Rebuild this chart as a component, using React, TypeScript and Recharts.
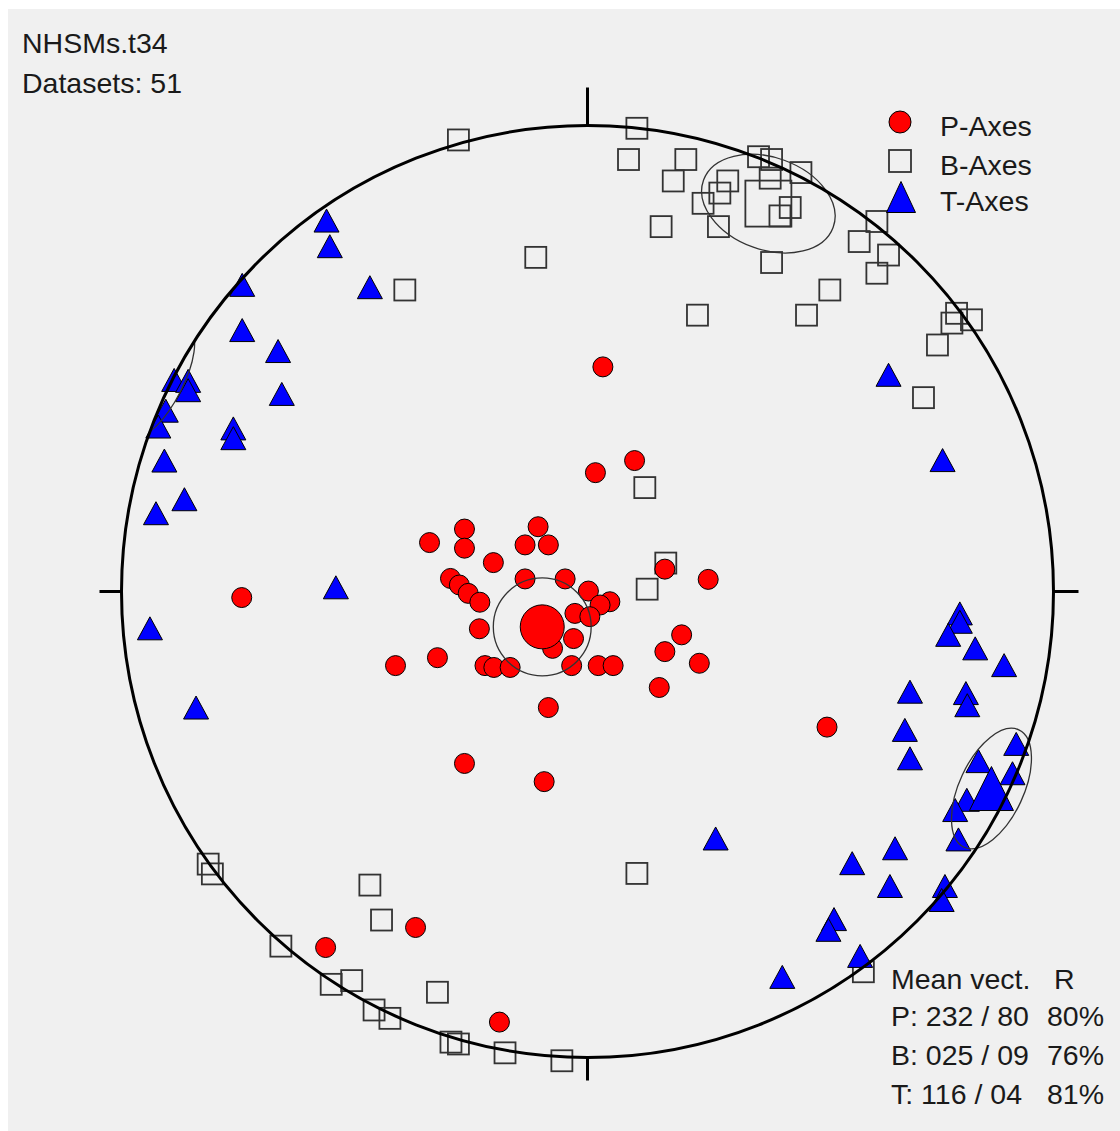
import { Scatter, ScatterChart, XAxis, YAxis } from "recharts";

// Stereonet coordinates: net radius = 100, x towards east, y towards north.
const P_AXES: [number, number][] = [
  [10.1, 28.1], [1.7, 25.5], [-26.4, 13.4], [-33.9, 10.5], [-26.4, 9.3],
  [-10.6, 13.9], [-13.4, 10.0], [-8.4, 10.0], [-20.2, 6.2], [-29.4, 2.8],
  [-27.5, 1.4], [-25.6, -0.4], [-23.1, -2.3], [-13.4, 2.7], [-4.8, 2.7],
  [0.2, 0.1], [4.8, -2.2], [2.7, -2.9], [-2.7, -4.7], [0.5, -5.4],
  [-3.0, -10.1], [-7.5, -12.2], [-23.2, -8.0], [-41.2, -15.9], [-32.2, -14.2],
  [-22.0, -15.9], [-20.1, -16.3], [-16.6, -16.3], [-3.4, -15.9], [2.3, -15.9],
  [5.5, -15.9], [16.6, 4.8], [25.9, 2.6], [20.2, -9.3], [16.6, -12.9],
  [24.0, -15.4], [15.4, -20.6], [-8.4, -24.9], [-26.4, -36.9], [-9.3, -40.8],
  [3.3, 48.2], [-74.2, -1.3], [51.4, -29.1], [-56.2, -76.4], [-36.9, -72.1],
  [-18.9, -92.4],
];

const B_AXES: [number, number][] = [
  [10.6, 99.4], [8.8, 92.7], [21.1, 92.7], [18.4, 88.1], [36.7, 93.3],
  [39.5, 92.7], [39.2, 88.7], [45.8, 89.9], [30.1, 88.1], [28.4, 85.5],
  [24.8, 83.3], [28.1, 78.3], [15.8, 78.3], [43.5, 82.4], [41.3, 80.6],
  [39.5, 70.6], [58.3, 75.1], [62.1, 79.4], [64.6, 72.2], [62.1, 68.3],
  [52.0, 64.7], [47.0, 59.3], [23.6, 59.3], [79.2, 59.7], [82.4, 58.3],
  [78.2, 57.6], [75.1, 52.9], [72.1, 41.6], [12.3, 22.3], [16.8, 6.1],
  [12.8, 0.5], [-27.7, 96.9], [-11.1, 71.7], [-39.2, 64.7], [-81.4, -58.5],
  [-80.5, -60.6], [-46.7, -63.0], [-44.2, -70.5], [-65.8, -76.1], [-55.0, -84.3],
  [-50.6, -83.5], [-45.8, -89.8], [-42.4, -91.6], [-32.2, -86.0], [-29.3, -96.7],
  [-27.7, -97.1], [-17.7, -99.0], [-5.5, -100.7], [10.6, -60.5], [59.2, -81.6],
];

const T_AXES: [number, number][] = [
  [-56.0, 79.6], [-55.3, 74.1], [-74.1, 65.8], [-46.7, 65.3], [-74.1, 56.1],
  [-66.4, 51.6], [-65.6, 42.4], [-88.7, 45.4], [-85.7, 45.2], [-85.7, 43.2],
  [-90.5, 38.8], [-92.1, 35.4], [-76.0, 35.0], [-76.0, 32.9], [-90.8, 28.1],
  [-86.5, 19.8], [-92.6, 16.8], [-93.9, -7.9], [-84.0, -24.9], [-54.0, 0.9],
  [64.6, 46.5], [76.2, 28.2], [79.9, -4.7], [79.9, -6.5], [77.4, -9.3],
  [83.2, -12.2], [89.4, -15.8], [69.2, -21.5], [81.2, -21.8], [81.5, -24.4],
  [68.1, -29.7], [69.2, -35.8], [92.0, -32.7], [83.9, -36.4], [91.2, -39.0],
  [81.4, -44.7], [78.9, -46.9], [79.6, -53.2], [66.0, -55.1], [64.9, -63.2],
  [76.7, -63.2], [76.0, -66.2], [27.5, -53.0], [56.8, -58.3], [52.9, -70.3],
  [51.7, -72.6], [58.5, -78.2], [41.8, -82.7],
];

// Mean vectors (trend / plunge in degrees, R in percent)
const MEAN_VECTORS = [
  { axis: "P", trend: 232, plunge: 80, r: 80 },
  { axis: "B", trend: 25, plunge: 9, r: 76 },
  { axis: "T", trend: 116, plunge: 4, r: 81 },
];

// Confidence cones round each mean: semi-axes in net units, rotation in degrees
const CONES = [
  { axis: "P", rx: 10.5, ry: 10.5, rot: 0 },
  { axis: "B", rx: 14.8, ry: 9.9, rot: 20 },
  { axis: "T", rx: 6.9, ry: 13.9, rot: 25 },
];
// the bit of the T cone that wraps round to the other side of the net
const T_CONE_WRAP = { x: -91.2, y: 44.8, rx: 4.3, ry: 12.6, rot: 27 };

const W = 1112;
const H = 1122;
const PX = 4.66; // pixels per net unit
const CX = 579.5;
const CY = 582.5;
const FONT = "'Liberation Sans', Arial, sans-serif";
const INK = "#1a1a1a";

// Schmidt (equal-area) lower hemisphere projection
function project(trend: number, plunge: number) {
  const rad = Math.PI / 180;
  const r = 100 * Math.SQRT2 * Math.sin(((90 - plunge) / 2) * rad);
  return { x: r * Math.sin(trend * rad), y: r * Math.cos(trend * rad) };
}

const toPoints = (arr: [number, number][]) => arr.map(([x, y]) => ({ x, y }));

const meanPoint = (axis: string) => {
  const m = MEAN_VECTORS.find((v) => v.axis === axis)!;
  return project(m.trend, m.plunge);
};

const pData = toPoints(P_AXES);
const bData = toPoints(B_AXES);
const tData = toPoints(T_AXES);
const coneData = [
  ...CONES.map((c) => ({ ...meanPoint(c.axis), rx: c.rx, ry: c.ry, rot: c.rot, clip: false })),
  { ...T_CONE_WRAP, clip: true },
];

const pad = (n: number, w: number) => String(n).padStart(w, "0");

function Dot({ cx, cy, r = 10 }: any) {
  return <circle cx={cx} cy={cy} r={r} fill="#ff0000" stroke="#000" strokeWidth={1} />;
}

function Box({ cx, cy, s = 21 }: any) {
  return (
    <rect x={cx - s / 2} y={cy - s / 2} width={s} height={s} fill="none" stroke="#333" strokeWidth={1.8} />
  );
}

function Tri({ cx, cy, w = 25, h = 23 }: any) {
  const pts = `${cx},${cy - h / 2} ${cx + w / 2},${cy + h / 2} ${cx - w / 2},${cy + h / 2}`;
  return <polygon points={pts} fill="#0000ff" stroke="#000" strokeWidth={1} strokeLinejoin="miter" />;
}

function Cone({ cx, cy, payload }: any) {
  // clip on the wrapper so the rotation does not turn the clip circle too
  return (
    <g clipPath={payload.clip ? "url(#net-clip)" : undefined}>
      <ellipse
        cx={cx}
        cy={cy}
        rx={payload.rx * PX}
        ry={payload.ry * PX}
        transform={`rotate(${payload.rot} ${cx} ${cy})`}
        fill="none"
        stroke="#333"
        strokeWidth={1.3}
      />
    </g>
  );
}

function NetOutline({ cx, cy }: any) {
  const r = 100 * PX;
  const tick = { stroke: "#000", strokeWidth: 3 };
  return (
    <g>
      <defs>
        <clipPath id="net-clip">
          <circle cx={cx} cy={cy} r={r} />
        </clipPath>
      </defs>
      <circle cx={cx} cy={cy} r={r} fill="none" stroke="#000" strokeWidth={3} />
      <line x1={cx} y1={cy - r - 38} x2={cx} y2={cy - r} {...tick} />
      <line x1={cx} y1={cy + r} x2={cx} y2={cy + r + 23} {...tick} />
      <line x1={cx - r - 22} y1={cy} x2={cx - r} y2={cy} {...tick} />
      <line x1={cx + r} y1={cy} x2={cx + r + 25} y2={cy} {...tick} />
    </g>
  );
}

export default function App() {
  const legend = [
    { label: "P-Axes", y: 113, icon: (y: number) => <Dot cx={892} cy={y} r={11} /> },
    { label: "B-Axes", y: 152, icon: (y: number) => <Box cx={892} cy={y} s={22} /> },
    { label: "T-Axes", y: 188, icon: (y: number) => <Tri cx={893} cy={y} w={29} h={31} /> },
  ];

  return (
    <div style={{ position: "absolute", left: 8, top: 9, width: W, height: H, background: "#f0f0f0" }}>
      <ScatterChart width={W} height={H} margin={{ top: 0, right: 0, bottom: 0, left: 0 }}>
        <XAxis type="number" dataKey="x" domain={[-CX / PX, (W - CX) / PX]} hide allowDataOverflow />
        <YAxis type="number" dataKey="y" domain={[-(H - CY) / PX, CY / PX]} hide allowDataOverflow />
        <Scatter data={bData} shape={(p: any) => <Box cx={p.cx} cy={p.cy} />} isAnimationActive={false} />
        <Scatter data={pData} shape={(p: any) => <Dot cx={p.cx} cy={p.cy} />} isAnimationActive={false} />
        <Scatter data={tData} shape={(p: any) => <Tri cx={p.cx} cy={p.cy} />} isAnimationActive={false} />
        <Scatter data={[meanPoint("B")]} shape={(p: any) => <Box cx={p.cx} cy={p.cy} s={46} />} isAnimationActive={false} />
        <Scatter data={[meanPoint("P")]} shape={(p: any) => <Dot cx={p.cx} cy={p.cy} r={22} />} isAnimationActive={false} />
        <Scatter data={[meanPoint("T")]} shape={(p: any) => <Tri cx={p.cx} cy={p.cy} w={44} h={44} />} isAnimationActive={false} />
        <Scatter data={coneData} shape={Cone} isAnimationActive={false} />
        <Scatter data={[{ x: 0, y: 0 }]} shape={NetOutline} isAnimationActive={false} />
      </ScatterChart>

      <svg
        width={W}
        height={H}
        style={{ position: "absolute", left: 0, top: 0, pointerEvents: "none" }}
        fontFamily={FONT}
        fontSize={28.5}
        fill={INK}
      >
        <text x={14} y={44}>NHSMs.t34</text>
        <text x={14} y={84}>Datasets: 51</text>

        {legend.map((l) => (
          <g key={l.label}>
            {l.icon(l.y)}
            <text x={932} y={l.y + 14} fill={INK}>{l.label}</text>
          </g>
        ))}

        <text x={883} y={980}>Mean vect.</text>
        <text x={1046} y={980}>R</text>
        {MEAN_VECTORS.map((m, i) => (
          <g key={m.axis}>
            <text x={883} y={1017 + i * 39}>
              {`${m.axis}: ${pad(m.trend, 3)} / ${pad(m.plunge, 2)}`}
            </text>
            <text x={1039} y={1017 + i * 39}>{`${m.r}%`}</text>
          </g>
        ))}
      </svg>
    </div>
  );
}
